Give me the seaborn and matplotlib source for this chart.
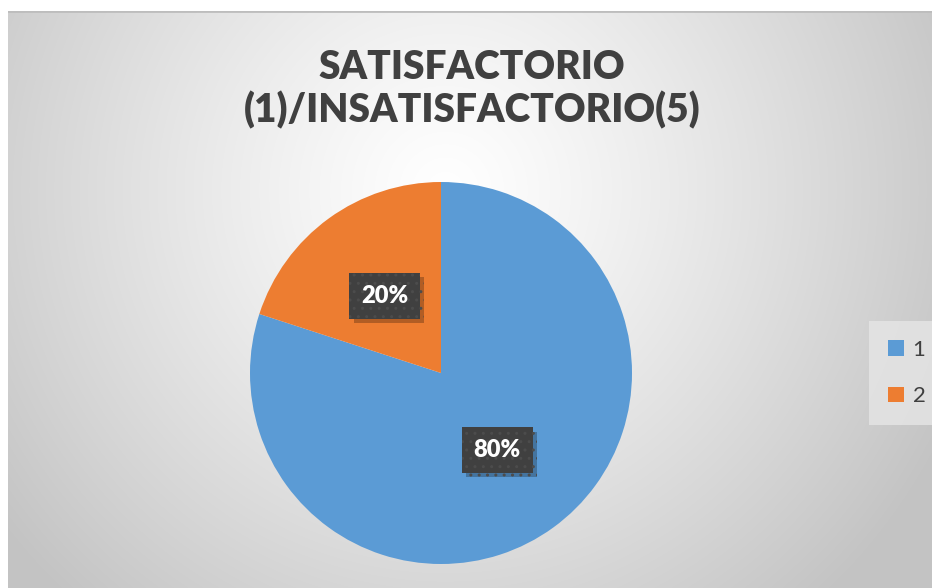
import numpy as np
import matplotlib
matplotlib.use('Agg')
import matplotlib.pyplot as plt
import matplotlib.patheffects as pe
from matplotlib.patches import Patch
import seaborn as sns

# data
categories = ['1', '2']
shares = [80, 20]
title_lines = ['SATISFACTORIO', '(1)/INSATISFACTORIO(5)']
colors = ['#5B9BD5', '#ED7D31']

sns.set_theme(style='white')
plt.rcParams['font.family'] = ['Lato', 'DejaVu Sans']

W, H = 932, 588
fig = plt.figure(figsize=(W / 100, H / 100), dpi=100)
fig.patch.set_facecolor('white')

# chart area with a radial grey gradient (white in the middle)
x0, y0 = 8, 11
bg = fig.add_axes([x0 / W, 0, 1 - x0 / W, 1 - y0 / H])
xx, yy = np.meshgrid(np.arange(x0, W), np.arange(y0, H))
d = np.hypot(xx - 445, yy - 190) / 560
shade = 255 - 60 * np.clip(d, 0, 1) ** 1.2
bg.imshow(np.dstack([shade] * 3) / 255, aspect='auto', extent=(0, 1, 0, 1))
bg.axhline(1, color='#bdbdbd', lw=2)
bg.axis('off')

# pie, centre (441, 373) px, radius 191 px
cx, cy, r = 441, 373, 191
ax = fig.add_axes([(cx - r) / W, (H - cy - r) / H, 2 * r / W, 2 * r / H])
wedges, texts, autotexts = ax.pie(
    shares, colors=colors, startangle=90, counterclock=False,
    autopct='%d%%', pctdistance=0.5, wedgeprops=dict(linewidth=0))
ax.set_xlim(-1, 1)
ax.set_ylim(-1, 1)
ax.set_aspect('equal')
ax.axis('off')

for t in autotexts:
    t.set_color('white')
    t.set_fontsize(17)
    t.set_fontweight('heavy')
    t.set_bbox(dict(boxstyle='square,pad=0.5', facecolor='#404040',
                    edgecolor='#4c4c4c', hatch='..', linewidth=0))
    t.get_bbox_patch().set_path_effects([
        pe.SimplePatchShadow(offset=(3, -3), shadow_rgbFace='black', alpha=0.25),
        pe.Normal()])

# title
fig.text(472 / W, 1 - 89 / H, '\n'.join(title_lines), ha='center', va='center',
         fontsize=28, fontweight='heavy', color='#404040', linespacing=1.15)

# legend
handles = [Patch(facecolor=c, edgecolor='none') for c in colors]
leg = fig.legend(handles, categories, loc='center left',
                 bbox_to_anchor=(876 / W, 1 - 373 / H), frameon=True, fontsize=16,
                 handlelength=0.7, handleheight=0.7, handletextpad=0.4,
                 labelspacing=1.2, borderpad=0.55, borderaxespad=0)
leg.get_frame().set_facecolor('#e6e6e6')
leg.get_frame().set_edgecolor('none')
leg.get_frame().set_boxstyle('square')
for t in leg.get_texts():
    t.set_color('#404040')

fig.savefig('out.png', dpi=100)
